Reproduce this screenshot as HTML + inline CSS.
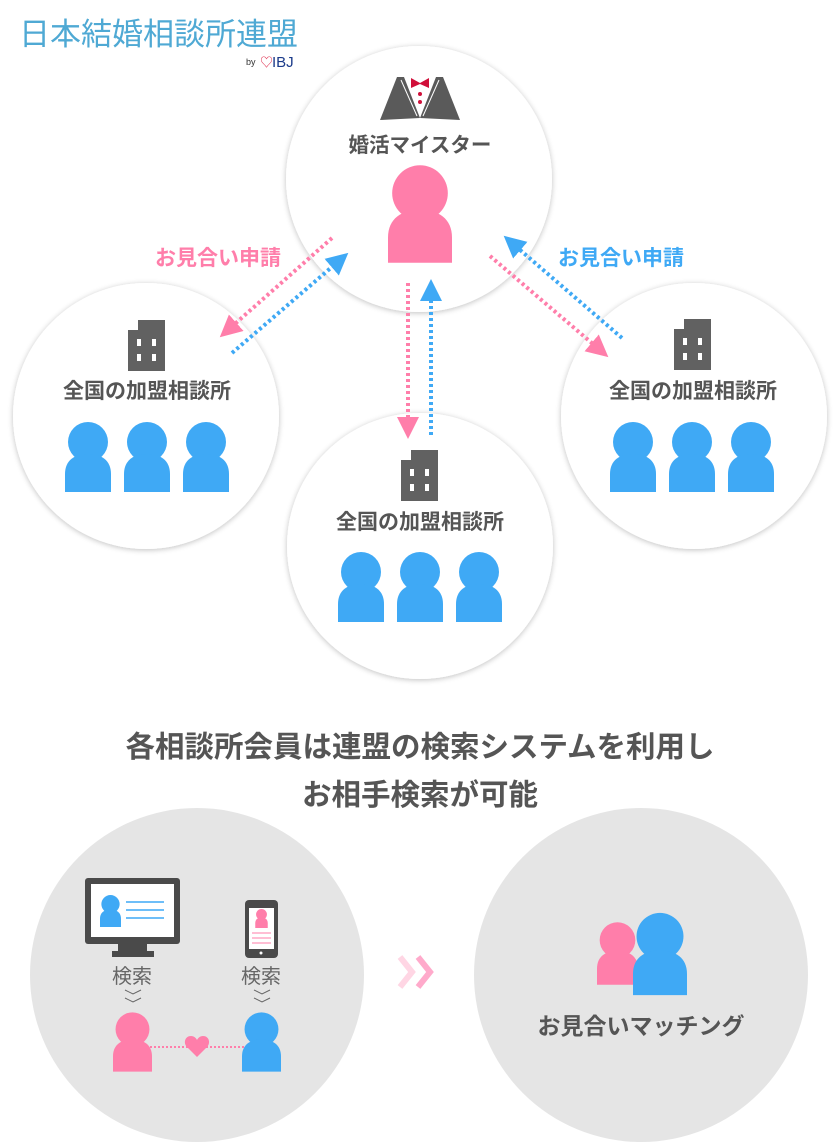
<!DOCTYPE html>
<html><head><meta charset="utf-8"><style>
html,body{margin:0;padding:0;background:#fff;width:840px;height:1145px;overflow:hidden}
svg{display:block}
text{font-family:"Liberation Sans","Noto Sans CJK JP",sans-serif}
</style></head><body>
<svg width="840" height="1145" viewBox="0 0 840 1145" xmlns="http://www.w3.org/2000/svg">
<defs>
<filter id="sh" x="-20%" y="-20%" width="140%" height="140%"><feGaussianBlur in="SourceAlpha" stdDeviation="3"/><feOffset dx="0" dy="1"/><feComponentTransfer><feFuncA type="linear" slope="0.25"/></feComponentTransfer><feMerge><feMergeNode/><feMergeNode in="SourceGraphic"/></feMerge></filter>
<symbol id="pb" viewBox="0 0 46 70"><circle cx="23" cy="20" r="20" fill="#3fa9f5"/><path d="M0 70V52C0 38 10 32 23 32C36 32 46 38 46 52V70Z" fill="#3fa9f5"/></symbol>
<symbol id="pp" viewBox="0 0 46 70"><circle cx="23" cy="20" r="20" fill="#ff7eaa"/><path d="M0 70V52C0 38 10 32 23 32C36 32 46 38 46 52V70Z" fill="#ff7eaa"/></symbol>
<symbol id="bld" viewBox="0 0 37 51"><path d="M0 10H10V0H37V51H0Z" fill="#616161"/><g fill="#fff"><rect x="9" y="19" width="4" height="7"/><rect x="24" y="19" width="4" height="7"/><rect x="9" y="34" width="4" height="7"/><rect x="24" y="34" width="4" height="7"/></g></symbol>
<marker id="ap" viewBox="0 0 10 10" refX="5" refY="5" markerWidth="5.5" markerHeight="5.5" orient="auto"><path d="M0 0L10 5L0 10Z" fill="#ff7eaa"/></marker>
<marker id="ab" viewBox="0 0 10 10" refX="5" refY="5" markerWidth="5.5" markerHeight="5.5" orient="auto"><path d="M0 0L10 5L0 10Z" fill="#3fa9f5"/></marker>
</defs>
<text x="19" y="45" font-size="31" fill="#4fa9d4">日本結婚相談所連盟</text>
<text x="246" y="65" font-size="9" fill="#333">by</text>
<text x="260" y="67" font-size="13" fill="#e03050">♡</text>
<text x="272" y="67" font-size="15" font-family="Liberation Serif,serif" fill="#1a3a8a">IBJ</text>

<g filter="url(#sh)" fill="#fff">
<circle cx="146" cy="416" r="133"/>
<circle cx="694" cy="416" r="133"/>
<circle cx="420" cy="546" r="133"/>
<circle cx="419" cy="179" r="133"/>
</g>
<path d="M397 77H404L420 118L380 120Z" fill="#5a5a5a"/>
<path d="M443 77H436L420 118L460 120Z" fill="#5a5a5a"/>
<path d="M401 80L417 116" stroke="#fff" stroke-width="1"/><path d="M439 80L423 116" stroke="#fff" stroke-width="1"/>
<path d="M411 78L420 83L429 78V88L420 84L411 88Z" fill="#d0103a"/>
<circle cx="420" cy="94" r="2" fill="#d0103a"/><circle cx="420" cy="102" r="2" fill="#d0103a"/>
<text x="420" y="152" font-size="20.5" font-weight="bold" fill="#555" text-anchor="middle">婚活マイスター</text>
<use href="#pp" x="388" y="165" width="64" height="98"/>

<use href="#bld" x="128" y="320" width="37" height="51"/>
<text x="147" y="398" font-size="21" font-weight="bold" fill="#555" text-anchor="middle">全国の加盟相談所</text>
<use href="#pb" x="65" y="422" width="46" height="70"/><use href="#pb" x="124" y="422" width="46" height="70"/><use href="#pb" x="183" y="422" width="46" height="70"/>

<use href="#bld" x="674" y="319" width="37" height="51"/>
<text x="693" y="398" font-size="21" font-weight="bold" fill="#555" text-anchor="middle">全国の加盟相談所</text>
<use href="#pb" x="610" y="422" width="46" height="70"/><use href="#pb" x="669" y="422" width="46" height="70"/><use href="#pb" x="728" y="422" width="46" height="70"/>

<use href="#bld" x="401" y="450" width="37" height="51"/>
<text x="420" y="529" font-size="21" font-weight="bold" fill="#555" text-anchor="middle">全国の加盟相談所</text>
<use href="#pb" x="338" y="552" width="46" height="70"/><use href="#pb" x="397" y="552" width="46" height="70"/><use href="#pb" x="456" y="552" width="46" height="70"/>

<g stroke-width="4" stroke-dasharray="3 3" fill="none">
<line x1="332" y1="238" x2="228" y2="330" stroke="#ff7eaa" marker-end="url(#ap)"/>
<line x1="232" y1="353" x2="340" y2="260" stroke="#3fa9f5" marker-end="url(#ab)"/>
<line x1="408" y1="283" x2="408" y2="428" stroke="#ff7eaa" marker-end="url(#ap)"/>
<line x1="431" y1="435" x2="431" y2="290" stroke="#3fa9f5" marker-end="url(#ab)"/>
<line x1="490" y1="256" x2="600" y2="350" stroke="#ff7eaa" marker-end="url(#ap)"/>
<line x1="622" y1="338" x2="512" y2="243" stroke="#3fa9f5" marker-end="url(#ab)"/>
</g>
<text x="218" y="265" font-size="21" font-weight="bold" fill="#ff7eaa" text-anchor="middle">お見合い申請</text>
<text x="621" y="265" font-size="21" font-weight="bold" fill="#3fa9f5" text-anchor="middle">お見合い申請</text>

<text x="420" y="757" font-size="29.5" font-weight="bold" fill="#555" text-anchor="middle">各相談所会員は連盟の検索システムを利用し</text>
<text x="420" y="805" font-size="29.5" font-weight="bold" fill="#555" text-anchor="middle">お相手検索が可能</text>

<circle cx="197" cy="975" r="167" fill="#e5e5e5"/>
<circle cx="641" cy="975" r="167" fill="#e5e5e5"/>
<rect x="85" y="878" width="95" height="66" rx="3" fill="#4a4a4a"/>
<rect x="91" y="884" width="83" height="53" fill="#fff"/>
<rect x="118" y="944" width="29" height="8" fill="#4a4a4a"/><rect x="112" y="951" width="42" height="6" fill="#4a4a4a"/>
<use href="#pb" x="100" y="895" width="21" height="32"/>
<g stroke="#3fa9f5" stroke-width="1.5"><line x1="126" y1="902" x2="164" y2="902"/><line x1="126" y1="910" x2="164" y2="910"/><line x1="126" y1="918" x2="164" y2="918"/></g>
<rect x="245" y="900" width="33" height="58" rx="4" fill="#4a4a4a"/>
<rect x="249" y="908" width="25" height="41" fill="#fff"/>
<use href="#pp" x="255" y="909" width="13" height="19"/>
<g stroke="#ff7eaa" stroke-width="1"><line x1="252" y1="933" x2="271" y2="933"/><line x1="252" y1="938" x2="271" y2="938"/><line x1="252" y1="943" x2="271" y2="943"/></g>
<circle cx="261" cy="953" r="1.5" fill="#fff"/>
<text x="132" y="983" font-size="20" fill="#666" text-anchor="middle">検索</text>
<text x="261" y="983" font-size="20" fill="#666" text-anchor="middle">検索</text>
<g stroke="#666" stroke-width="1" fill="none"><path d="M125 990L133 994L141 990M125 998L133 1002L141 998"/><path d="M254 990L262 994L270 990M254 998L262 1002L270 998"/></g>
<line x1="150" y1="1047" x2="245" y2="1047" stroke="#ff7eaa" stroke-width="2" stroke-dasharray="2 2"/>
<path d="M197 1057L187 1047C183 1043 185 1036 191 1036C194 1036 196 1038 197 1040C198 1038 200 1036 203 1036C209 1036 211 1043 207 1047Z" fill="#ff7eaa"/>
<use href="#pp" x="113" y="1012" width="39" height="60"/>
<use href="#pb" x="242" y="1012" width="39" height="60"/>
<path d="M400 957L412 972L400 987" stroke="#ffd6e4" stroke-width="6" fill="none"/>
<path d="M418 957L430 972L418 987" stroke="#ffaacb" stroke-width="6" fill="none"/>
<use href="#pp" x="597" y="919" width="41" height="69"/>
<use href="#pb" x="633" y="912" width="54" height="84"/>
<text x="641" y="1034" font-size="23" font-weight="bold" fill="#555" text-anchor="middle">お見合いマッチング</text>
</svg>
</body></html>
